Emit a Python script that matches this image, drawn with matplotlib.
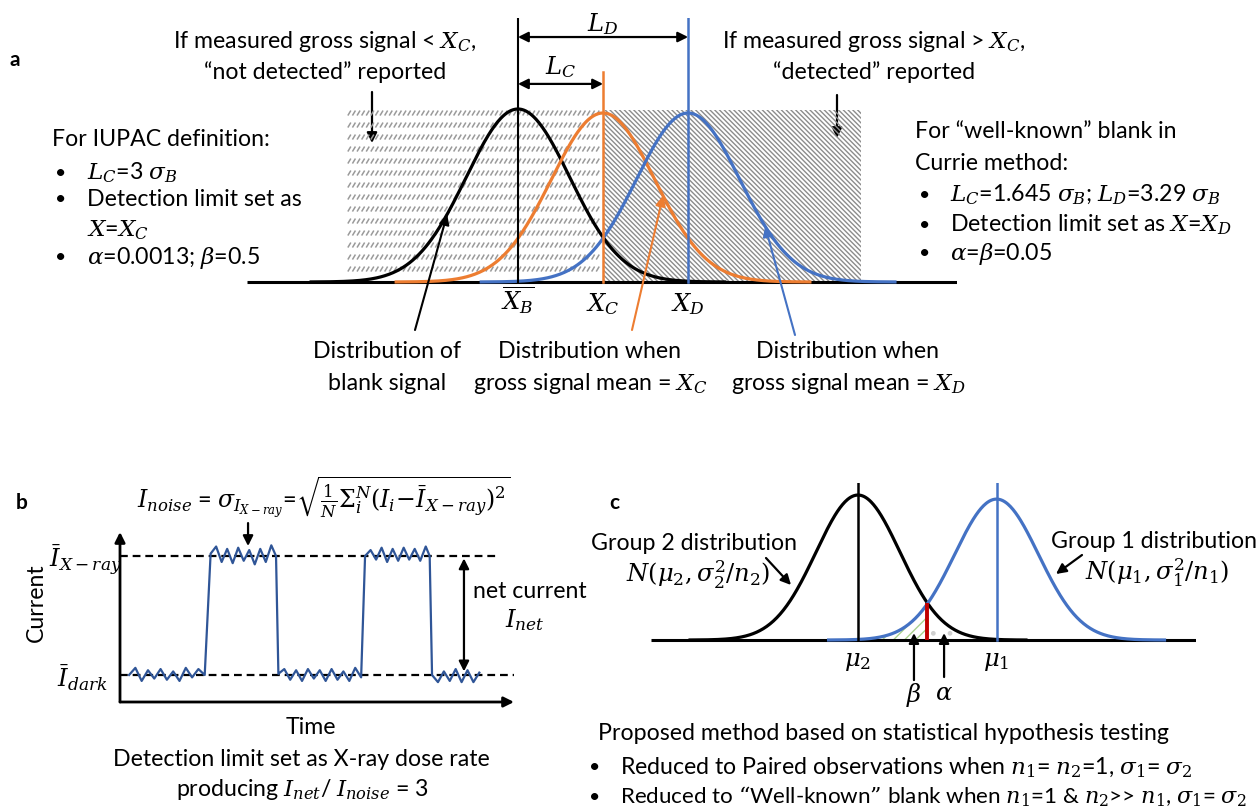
import numpy as np
import matplotlib
matplotlib.use('Agg')
import matplotlib.pyplot as plt
from matplotlib.patches import Rectangle
from matplotlib.collections import LineCollection

plt.rcParams['font.family'] = ['Lato', 'DejaVu Sans']
plt.rcParams['mathtext.fontset'] = 'dejavuserif'
plt.rcParams['hatch.linewidth'] = 1.0
plt.rcParams['font.size'] = 16.7

# ---------------- data ----------------
# panel a : distributions in units of sigma_B
a_names = ['blank', 'gross = X_C', 'gross = X_D']
a_means = [0.0, 1.645, 3.29]
a_peaks = [1.0, 0.977, 0.977]
a_vtops = [1.526, 1.214, 1.526]
a_ticklabels = [r'$\overline{X_B}$', r'$X_C$', r'$X_D$']
a_colors = ['black', '#ED7D31', '#4472C4']
a_span = 4.0
a_hatch_left = -3.29
a_hatch_right = 6.63
a_hatch_top = 0.994

# panel b : current trace (dark level = 0, X-ray level = 1)
b_time = [2.3, 3.9, 5.5, 7.1, 8.7, 10.3, 11.9, 13.5, 15.1, 16.7, 18.3, 19.9, 21.5,
          23.0, 24.4, 25.8, 27.2, 28.6, 30.0, 31.4, 32.8, 34.2, 35.6, 37.0, 38.4, 39.6,
          40.2, 41.7, 43.2, 44.7, 46.2, 47.7, 49.2, 50.7, 52.2, 53.7, 55.2, 56.7, 58.2, 59.7, 61.2,
          62.2, 63.6, 65.0, 66.4, 67.8, 69.2, 70.6, 72.0, 73.4, 74.8, 76.2, 77.6, 78.6,
          79.2, 80.7, 82.2, 83.7, 85.2, 86.7, 88.2, 89.7, 91.2]
b_current = [0.00, 0.06, -0.05, 0.04, -0.03, 0.05, -0.04, 0.03, -0.05, 0.06, -0.02, 0.05, 0.00,
             1.02, 1.08, 0.95, 1.06, 0.94, 1.07, 0.96, 1.05, 0.93, 1.06, 0.95, 1.09, 1.00,
             0.01, 0.05, -0.04, 0.04, -0.05, 0.05, -0.03, 0.04, -0.05, 0.05, -0.04, 0.03, -0.05, 0.06, -0.02,
             1.00, 1.05, 0.97, 1.07, 0.95, 1.06, 0.96, 1.07, 0.97, 1.06, 0.96, 1.08, 1.00,
             0.00, -0.06, 0.03, -0.05, 0.05, -0.06, 0.04, -0.06, 0.02]
b_dark = 0.0
b_xray = 1.0

# panel c : two groups
c_means = [0.0, 3.3]
c_peaks = [1.0, 0.972]
c_colors = ['black', '#4472C4']
c_ticklabels = [r'$\mu_2$', r'$\mu_1$']
c_span = 4.0

W, H = 1260, 811
fig = plt.figure(figsize=(W / 100, H / 100), dpi=100)
bg = fig.add_axes([0, 0, 1, 1])
bg.set_xlim(0, W)
bg.set_ylim(H, 0)
bg.axis('off')


def px_axes(x0, x1, ytop, ybot):
    ax = fig.add_axes([x0 / W, 1 - ybot / H, (x1 - x0) / W, (ybot - ytop) / H])
    ax.axis('off')
    return ax


def gauss(x, mu, peak):
    return peak * np.exp(-(x - mu) ** 2 / 2.0)


arrow_kw = dict(arrowstyle='-|>', color='black', lw=1.6, mutation_scale=15,
                shrinkA=0, shrinkB=0)
darrow_kw = dict(arrowstyle='<|-|>', color='black', lw=1.6, mutation_scale=15,
                 shrinkA=0, shrinkB=0)
MS = 17.5  # math label size

# ================= panel a =================
ax_a = px_axes(247, 957, 18, 290.65)
ax_a.set_xlim(-5.24, 8.49)
ax_a.set_ylim(-0.05, 1.526)
pxx = 710 / 13.73   # px per x unit
pxy = 173.0         # px per y unit

# left texture: rows of small slashes
segs = []
ry = a_hatch_top - 3 / pxy
while ry > 4 / pxy:
    sx = a_hatch_left + 1.5 / pxx
    while sx < a_means[1] - 1.5 / pxx:
        segs.append([(sx - 1.5 / pxx, ry - 2.5 / pxy), (sx + 1.5 / pxx, ry + 2.5 / pxy)])
        sx += 4.6 / pxx
    ry -= 12 / pxy
ax_a.add_collection(LineCollection(segs, colors='#9a9a9a', linewidths=1.1, zorder=1))
# right dense hatch
ax_a.add_patch(Rectangle((a_means[1], 0), a_hatch_right - a_means[1], a_hatch_top,
                         facecolor='none', edgecolor='#8c8c8c', hatch='\\' * 7,
                         lw=0, zorder=1))

ax_a.plot([-5.24, 8.49], [0, 0], color='black', lw=2.2, zorder=2, solid_capstyle='butt')
for mu, pk, col in zip(a_means, a_peaks, a_colors):
    xs = np.linspace(mu - a_span, mu + a_span, 400)
    ax_a.plot(xs, gauss(xs, mu, pk), color=col, lw=2.3, zorder=3)
for mu, col, top in zip(a_means, a_colors, a_vtops):
    ax_a.plot([mu, mu], [0, top], color=col, lw=1.8 if col != 'black' else 1.5, zorder=4)
for mu, lab, dy in zip(a_means, a_ticklabels, [-0.1, -0.13, -0.13]):
    ax_a.text(mu, dy, lab, ha='center', va='center', fontsize=MS)

# L_D, L_C
ax_a.annotate('', xy=(a_means[2], 1.416), xytext=(a_means[0], 1.416), arrowprops=darrow_kw)
ax_a.annotate('', xy=(a_means[1], 1.145), xytext=(a_means[0], 1.145), arrowprops=darrow_kw)
ax_a.text((a_means[0] + a_means[2]) / 2, 1.49, r'$L_D$', ha='center', va='center', fontsize=MS)
ax_a.text((a_means[0] + a_means[1]) / 2, 1.245, r'$L_C$', ha='center', va='center', fontsize=MS)

# pointers to curves
for mu, pk, col, xoff, tail in zip(a_means, a_peaks, a_colors, [-1.37, 1.16, 1.49],
                                   [(415, 330), (632, 330), (795, 335)]):
    xp = mu + xoff
    kw = dict(arrow_kw)
    kw['color'] = col
    kw['lw'] = 1.5
    ax_a.annotate('', xy=(xp, gauss(xp, mu, pk)), xycoords='data',
                  xytext=tail, textcoords=bg.transData, arrowprops=kw)

bg.text(9, 60, 'a', fontweight='bold', ha='left', va='center', fontsize=15)
bg.text(325, 42, 'If measured gross signal < $X_C$,', ha='center', va='center')
bg.text(325, 72, '“not detected” reported', ha='center', va='center')
bg.text(874, 42, 'If measured gross signal > $X_C$,', ha='center', va='center')
bg.text(874, 72, '“detected” reported', ha='center', va='center')
bg.annotate('', xy=(372, 143), xytext=(372, 92), arrowprops=arrow_kw)
bg.annotate('', xy=(837, 138), xytext=(837, 95), arrowprops=arrow_kw)

bg.text(52, 140, 'For IUPAC definition:', ha='left', va='center')
for y, t in zip([173, 199, 230, 258],
                ['$L_C$=3 $\\sigma_B$', 'Detection limit set as', '$X$=$X_C$',
                 '$\\alpha$=0.0013; $\\beta$=0.5']):
    if t != '$X$=$X_C$':
        bg.text(55, y, '•', ha='left', va='center', fontsize=14)
    bg.text(87, y, t, ha='left', va='center')

bg.text(915, 132, 'For “well-known” blank in', ha='left', va='center')
bg.text(915, 163, 'Currie method:', ha='left', va='center')
for y, t in zip([195, 225, 254],
                ['$L_C$=1.645 $\\sigma_B$; $L_D$=3.29 $\\sigma_B$',
                 'Detection limit set as $X$=$X_D$', '$\\alpha$=$\\beta$=0.05']):
    bg.text(919, y, '•', ha='left', va='center', fontsize=14)
    bg.text(950, y, t, ha='left', va='center')

for cx, l1, l2 in [(387, 'Distribution of', 'blank signal'),
                   (590, 'Distribution when', 'gross signal mean = $X_C$'),
                   (848, 'Distribution when', 'gross signal mean = $X_D$')]:
    bg.text(cx, 352, l1, ha='center', va='center')
    bg.text(cx, 383, l2, ha='center', va='center')

# ================= panel b =================
ax_b = px_axes(120, 514, 532, 702)
ax_b.set_xlim(0, 100)
ax_b.set_ylim(-0.227, 1.202)
ax_b.annotate('', xy=(0, 1), xycoords='axes fraction', xytext=(0, 0),
              textcoords='axes fraction', arrowprops=dict(arrow_kw, lw=2.0))
ax_b.annotate('', xy=(1, 0), xycoords='axes fraction', xytext=(0, 0),
              textcoords='axes fraction', arrowprops=dict(arrow_kw, lw=2.0))
ax_b.plot([0, 95.4], [b_xray, b_xray], color='black', lw=1.6, dashes=(3.5, 2.2))
ax_b.plot([0, 100], [b_dark, b_dark], color='black', lw=1.6, dashes=(3.5, 2.2))
ax_b.plot(b_time, b_current, color='#2F5597', lw=1.6, zorder=3)
ax_b.annotate('', xy=(87.3, b_dark + 0.03), xytext=(87.3, b_xray - 0.02), arrowprops=darrow_kw)
ax_b.annotate('', xy=(32.5, 1.084), xytext=(32.5, 1.277), arrowprops=arrow_kw)

bg.text(16, 503, 'b', fontweight='bold', ha='left', va='center', fontsize=15)
bg.text(137, 497,
        r'$I_{noise}$ = $\sigma_{I_{X-ray}}$=$\sqrt{\frac{1}{N}\Sigma_{i}^{N}(I_i\!-\!\bar{I}_{X-ray})^2}$',
        ha='left', va='center', fontsize=17)
bg.text(85, 560, r'$\bar{I}_{X-ray}$', ha='center', va='center', fontsize=MS)
bg.text(82, 678, r'$\bar{I}_{dark}$', ha='center', va='center', fontsize=MS)
bg.text(36, 603, 'Current', rotation=90, ha='center', va='center')
bg.text(473, 591, 'net current', ha='left', va='center')
bg.text(525, 620, r'$I_{net}$', ha='center', va='center', fontsize=MS)
bg.text(311, 728, 'Time', ha='center', va='center')
bg.text(301, 759, 'Detection limit set as X-ray dose rate', ha='center', va='center')
bg.text(302, 790, r'producing $I_{net}$/ $I_{noise}$ = 3', ha='center', va='center')

# ================= panel c =================
ax_c = px_axes(651, 1196, 483, 647)
ax_c.set_xlim(-4.93, 8.05)
ax_c.set_ylim(-0.048, 1.083)
xcross = (c_means[0] + c_means[1]) / 2
ax_c.plot([-4.93, 8.05], [0, 0], color='black', lw=2.2, zorder=2, solid_capstyle='butt')
xb = np.linspace(c_means[0], xcross, 200)
ax_c.fill_between(xb, 0, gauss(xb, c_means[1], c_peaks[1]), facecolor='none',
                  edgecolor='#A9D18E', hatch='///', lw=0, zorder=1)
xa = np.linspace(xcross, c_means[1], 200)
ax_c.fill_between(xa, 0, gauss(xa, c_means[0], c_peaks[0]), facecolor='none',
                  edgecolor='#d0d0d0', hatch='.', lw=0, zorder=1)
for mu, pk, col in zip(c_means, c_peaks, c_colors):
    xs = np.linspace(mu - c_span, mu + c_span, 400)
    ax_c.plot(xs, gauss(xs, mu, pk), color=col, lw=2.3, zorder=3)
    ax_c.plot([mu, mu], [0, 1.083], color=col, lw=1.8, zorder=4)
for mu, lab in zip(c_means, c_ticklabels):
    ax_c.text(mu, -0.152, lab, ha='center', va='center', fontsize=MS)
ax_c.plot([xcross, xcross], [0, gauss(xcross, c_means[0], c_peaks[0])],
          color='#C00000', lw=2.8, zorder=5, solid_capstyle='butt')
ax_c.annotate('', xy=(1.333, 0.048), xytext=(1.333, -0.276), arrowprops=arrow_kw)
ax_c.annotate('', xy=(2.05, 0.048), xytext=(2.05, -0.255), arrowprops=arrow_kw)
ax_c.text(1.333, -0.38, r'$\beta$', ha='center', va='center', fontsize=MS)
ax_c.text(2.05, -0.37, r'$\alpha$', ha='center', va='center', fontsize=MS)

bg.text(609, 503, 'c', fontweight='bold', ha='left', va='center', fontsize=15)
bg.text(694, 544, 'Group 2 distribution', ha='center', va='center')
bg.text(698, 575, r'$N(\mu_2,\sigma_2^2/n_2)$', ha='center', va='center', fontsize=MS)
bg.annotate('', xy=(791, 585), xytext=(766, 558), arrowprops=arrow_kw)
bg.text(1051, 541, 'Group 1 distribution', ha='left', va='center')
bg.text(1157, 573, r'$N(\mu_1,\sigma_1^2/n_1)$', ha='center', va='center', fontsize=MS)
bg.annotate('', xy=(1056, 574), xytext=(1082, 555), arrowprops=arrow_kw)

bg.text(598, 733, 'Proposed method based on statistical hypothesis testing', ha='left', va='center')
for y, t, fs in zip([768, 797],
                    [r'Reduced to Paired observations when $n_1$= $n_2$=1, $\sigma_1$= $\sigma_2$',
                     r'Reduced to “Well-known” blank when $n_1$=1 & $n_2$>> $n_1$, $\sigma_1$= $\sigma_2$'],
                    [16.7, 16.1]):
    bg.text(589, y, '•', ha='left', va='center', fontsize=14)
    bg.text(620, y, t, ha='left', va='center', fontsize=fs)

fig.savefig('out.png', dpi=100)
